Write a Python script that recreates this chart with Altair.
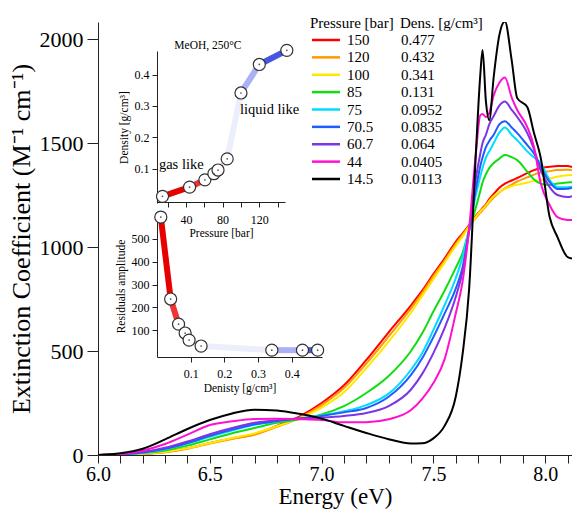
import altair as alt
import pandas as pd

FONT = "Liberation Serif"

# ---------------- main spectra ----------------
energy = [6.0, 6.1, 6.2, 6.3, 6.4, 6.5, 6.6, 6.7, 6.8, 6.9, 7.0, 7.1, 7.2, 7.3, 7.4,
          7.45, 7.5, 7.55, 7.6, 7.63, 7.66, 7.69, 7.71, 7.72, 7.735, 7.75, 7.77,
          7.795, 7.82, 7.85, 7.875, 7.92, 7.95, 7.98, 8.02, 8.055, 8.1, 8.12]

ext_150 = [0, 2, 5, 14, 32, 58, 80, 100, 140, 185, 250, 335, 457, 590, 720,
           790, 870, 945, 1025, 1065, 1105, 1150, 1175, 1188, 1205, 1230, 1255,
           1285, 1305, 1320, 1332, 1355, 1370, 1380, 1386, 1390, 1390, 1385]
ext_120 = [0, 2, 5, 13, 30, 55, 77, 97, 135, 178, 240, 322, 440, 570, 705,
           780, 860, 935, 1015, 1058, 1100, 1140, 1165, 1178, 1195, 1215, 1238,
           1262, 1282, 1300, 1315, 1335, 1348, 1358, 1365, 1370, 1372, 1370]
ext_100 = [0, 2, 6, 15, 33, 58, 82, 104, 138, 176, 228, 302, 418, 545, 685,
           765, 845, 925, 1005, 1050, 1098, 1145, 1172, 1183, 1200, 1222, 1245,
           1265, 1280, 1292, 1300, 1310, 1318, 1322, 1330, 1338, 1345, 1346]
ext_85 = [0, 3, 9, 22, 45, 75, 105, 130, 155, 172, 195, 235, 298, 380, 500,
          585, 690, 790, 900, 970, 1080, 1190, 1270, 1310, 1350, 1380, 1404,
          1425, 1442, 1432, 1418, 1362, 1325, 1305, 1298, 1305, 1310, 1312]
ext_75 = [0, 3, 11, 28, 55, 88, 118, 145, 162, 175, 190, 210, 240, 295, 410,
          490, 601, 720, 850, 950, 1090, 1250, 1340, 1380, 1430, 1460, 1500,
          1550, 1575, 1540, 1514, 1460, 1430, 1404, 1322, 1288, 1288, 1290]
ext_70_5 = [0, 3, 12, 30, 58, 92, 122, 148, 163, 175, 188, 205, 226, 280, 385,
            465, 567, 680, 800, 900, 1080, 1280, 1390, 1430, 1480, 1510, 1540,
            1590, 1605, 1575, 1548, 1490, 1450, 1385, 1312, 1279, 1280, 1285]
ext_60_7 = [0, 4, 14, 35, 65, 100, 130, 155, 167, 175, 180, 188, 202, 235, 315,
            390, 490, 610, 760, 880, 1080, 1330, 1450, 1500, 1540, 1590, 1630,
            1680, 1700, 1660, 1625, 1548, 1470, 1370, 1288, 1250, 1240, 1245]
ext_44 = [0, 5, 22, 53, 98, 144, 162, 173, 174, 172, 168, 157, 158, 172, 216,
          270, 346, 460, 680, 830, 1090, 1450, 1634, 1640, 1625, 1645, 1730,
          1790, 1815, 1720, 1659, 1577, 1481, 1307, 1202, 1144, 1130, 1130]
ext_14_5 = [0, 8, 30, 75, 125, 168, 200, 218, 214, 198, 175, 140, 106, 76, 55,
            56, 80, 140, 280, 480, 800, 1450, 1830, 1947, 1700, 1610, 1820,
            2019, 2085, 1900, 1716, 1673, 1548, 1430, 1144, 1048, 952, 945]

pressure_bar = [150, 120, 100, 85, 75, 70.5, 60.7, 44, 14.5]
density = [0.477, 0.432, 0.341, 0.131, 0.0952, 0.0835, 0.064, 0.0405, 0.0113]
residual = [13, 13, 13, 31, 57, 88, 127, 237, 596]
series = [ext_150, ext_120, ext_100, ext_85, ext_75, ext_70_5, ext_60_7, ext_44, ext_14_5]

line_colors = ["#ff0000", "#ff9a00", "#ffe800", "#10dd10", "#00dcff",
               "#1f5cff", "#7b35e6", "#ff10d0", "#000000"]
# gradient colours of the inset connecting segments (low -> high pressure)
seg_colors = ["#e60000", "#f03434", "#f57a7a", "#f9aeae", "#fcdede",
              "#eceefc", "#aab1f4", "#4756e2"]

p_labels = [f"{p:g}" for p in pressure_bar]
d_labels = [f"{d:g}" for d in density]

rows = []
for k, (lab, vals) in enumerate(zip(p_labels, series)):
    for e, v in zip(energy, vals):
        rows.append({"E": e, "ext": v, "p": lab, "k": k})
df_main = pd.DataFrame(rows)

W, H = 474, 433

x_ticks = [round(6.0 + 0.1 * i, 1) for i in range(22)]
main = alt.Chart(df_main).mark_line(strokeWidth=2, clip=True, interpolate="monotone").encode(
    x=alt.X("E:Q", scale=alt.Scale(domain=[6.0, 8.12], nice=False, zero=False),
            axis=alt.Axis(values=x_ticks, orient="bottom",
                          labelExpr="abs(datum.value*2 - round(datum.value*2)) < 0.01 ? format(datum.value, '.1f') : ''",
                          title="Energy (eV)", titleFontSize=23, labelFontSize=20,
                          tickSize=8, labelPadding=1, titlePadding=1, labelFlush=False,
                          labelOverlap=False, grid=False)),
    y=alt.Y("ext:Q", scale=alt.Scale(domain=[0, 2082], nice=False),
            axis=alt.Axis(values=[0, 500, 1000, 1500, 2000], orient="left", format="d",
                          title="Extinction Coefficient (M⁻¹ cm⁻¹)", titleFontSize=26,
                          labelFontSize=22, tickSize=11, labelPadding=4, titlePadding=5,
                          labelOverlap=False, grid=False)),
    color=alt.Color("p:N", scale=alt.Scale(domain=p_labels, range=line_colors), legend=None),
    order=alt.Order("k:Q"),
)

# ---------------- custom legend ----------------
df_leg = pd.DataFrame({"p": p_labels, "d": d_labels, "row": list(range(len(p_labels))),
                       "c": line_colors})
df_head = pd.DataFrame({"row": [-1], "h1": ["Pressure [bar]"], "h2": ["Dens. [g/cm³]"]})
leg_y = alt.Y("row:Q", scale=alt.Scale(domain=[0, 8], range=[18, 157], nice=False, zero=False), axis=None)

leg_rule = alt.Chart(df_leg).mark_rule(strokeWidth=2.5).encode(
    x=alt.value(214), x2=alt.value(242), y=leg_y, color=alt.Color("c:N", scale=None))
leg_p = alt.Chart(df_leg).mark_text(align="left", baseline="middle", font=FONT, fontSize=15,
                                    color="black").encode(x=alt.value(249), y=leg_y, text="p:N")
leg_d = alt.Chart(df_leg).mark_text(align="left", baseline="middle", font=FONT, fontSize=15,
                                    color="black").encode(x=alt.value(303), y=leg_y, text="d:N")
leg_h1 = alt.Chart(df_head).mark_text(align="left", baseline="middle", font=FONT, fontSize=15,
                                      color="black").encode(x=alt.value(212), y=leg_y, text="h1:N")
leg_h2 = alt.Chart(df_head).mark_text(align="left", baseline="middle", font=FONT, fontSize=15,
                                      color="black").encode(x=alt.value(302), y=leg_y, text="h2:N")

# ---------------- inset data (ascending pressure) ----------------
p_asc = pressure_bar[::-1]
d_asc = density[::-1]
r_asc = residual[::-1]
df_pts = pd.DataFrame({"p": p_asc, "d": d_asc, "r": r_asc})
df_seg = pd.DataFrame({"p": p_asc[:-1], "p2": p_asc[1:], "d": d_asc[:-1], "d2": d_asc[1:],
                       "r": r_asc[:-1], "r2": r_asc[1:], "c": seg_colors})

inset_axis = dict(labelFontSize=12, titleFontSize=11.5, tickSize=5,
                  labelOverlap=False, grid=False, labelFlush=False)

# inset 1 : density vs pressure
x1s = alt.Scale(domain=[8.5, 148], range=[59, 187], nice=False, zero=False)
y1s = alt.Scale(domain=[-0.01, 0.475], range=[181, 29], nice=False, zero=False)

in1_seg = alt.Chart(df_seg).mark_rule(strokeWidth=6, strokeCap="butt").encode(
    x=alt.X("p:Q", scale=x1s, axis=None), x2="p2:Q",
    y=alt.Y("d:Q", scale=y1s, axis=None), y2="d2:Q",
    color=alt.Color("c:N", scale=None))
in1_pts = alt.Chart(df_pts).mark_point(shape="circle", fill="white", stroke="#333",
                                       strokeWidth=1.2, size=145, opacity=1, filled=False,
                                       fillOpacity=1).encode(
    x=alt.X("p:Q", scale=x1s,
            axis=alt.Axis(orient="bottom", offset=180 - H, values=[20, 40, 60, 80, 100, 120, 140],
                          labelExpr="datum.value % 40 == 0 ? datum.value : ''",
                          title="Pressure [bar]", titlePadding=2, labelPadding=7, **inset_axis)),
    y=alt.Y("d:Q", scale=y1s,
            axis=alt.Axis(orient="left", offset=-59, values=[0.1, 0.2, 0.3, 0.4], format=".1f",
                          title="Density [g/cm³]", titlePadding=5, labelPadding=3, **inset_axis)))
in1_dot = alt.Chart(df_pts).mark_point(shape="circle", filled=True, color="#555", size=3,
                                       opacity=1).encode(
    x=alt.X("p:Q", scale=x1s, axis=None), y=alt.Y("d:Q", scale=y1s, axis=None))

df_ann = pd.DataFrame({"p": [10.6, 99], "d": [0.11, 0.286], "t": ["gas like", "liquid like"]})
in1_ann = alt.Chart(df_ann).mark_text(align="left", baseline="middle", font=FONT, fontSize=14.5,
                                      color="black").encode(
    x=alt.X("p:Q", scale=x1s, axis=None), y=alt.Y("d:Q", scale=y1s, axis=None), text="t:N")
df_ttl = pd.DataFrame({"p": [64], "d": [0.49], "t": ["MeOH, 250°C"]})
in1_ttl = alt.Chart(df_ttl).mark_text(align="center", baseline="middle", font=FONT, fontSize=11.5,
                                      color="black").encode(
    x=alt.X("p:Q", scale=x1s, axis=None), y=alt.Y("d:Q", scale=y1s, axis=None), text="t:N")

# inset 2 : residual amplitude vs density
x2s = alt.Scale(domain=[0, 0.49], range=[59, 224], nice=False, zero=False)
y2s = alt.Scale(domain=[-17, 605], range=[335, 193], nice=False, zero=False)

in2_seg = alt.Chart(df_seg).mark_rule(strokeWidth=6, strokeCap="butt").encode(
    x=alt.X("d:Q", scale=x2s, axis=None), x2="d2:Q",
    y=alt.Y("r:Q", scale=y2s, axis=None), y2="r2:Q",
    color=alt.Color("c:N", scale=None))
in2_pts = alt.Chart(df_pts).mark_point(shape="circle", fill="white", stroke="#333",
                                       strokeWidth=1.2, size=145, opacity=1, filled=False,
                                       fillOpacity=1).encode(
    x=alt.X("d:Q", scale=x2s,
            axis=alt.Axis(orient="bottom", offset=335 - H, values=[0.1, 0.2, 0.3, 0.4], format=".1f",
                          title="Denisty [g/cm³]", titlePadding=3, labelPadding=6, **inset_axis)),
    y=alt.Y("r:Q", scale=y2s,
            axis=alt.Axis(orient="left", offset=-59, values=[100, 200, 300, 400, 500], format="d",
                          title="Residuals amplitude", titlePadding=5, labelPadding=3, **inset_axis)))
in2_dot = alt.Chart(df_pts).mark_point(shape="circle", filled=True, color="#555", size=3,
                                       opacity=1).encode(
    x=alt.X("d:Q", scale=x2s, axis=None), y=alt.Y("r:Q", scale=y2s, axis=None))

chart = alt.layer(
    main, leg_rule, leg_p, leg_d, leg_h1, leg_h2,
    in1_seg, in1_pts, in1_dot, in1_ann, in1_ttl,
    in2_seg, in2_pts, in2_dot,
).resolve_scale(
    x="independent", y="independent", color="independent"
).properties(
    width=W, height=H,
    autosize=alt.AutoSizeParams(type="none"),
    padding={"left": 98, "top": 22, "right": 0, "bottom": 55},
    background="white",
).configure_view(stroke=None).configure_axis(
    labelFont=FONT, titleFont=FONT, labelColor="black", titleColor="black",
    titleFontWeight="normal", domainColor="#222", tickColor="#222",
)

chart.save("out.html", embed_options={"renderer": "svg", "actions": False})
